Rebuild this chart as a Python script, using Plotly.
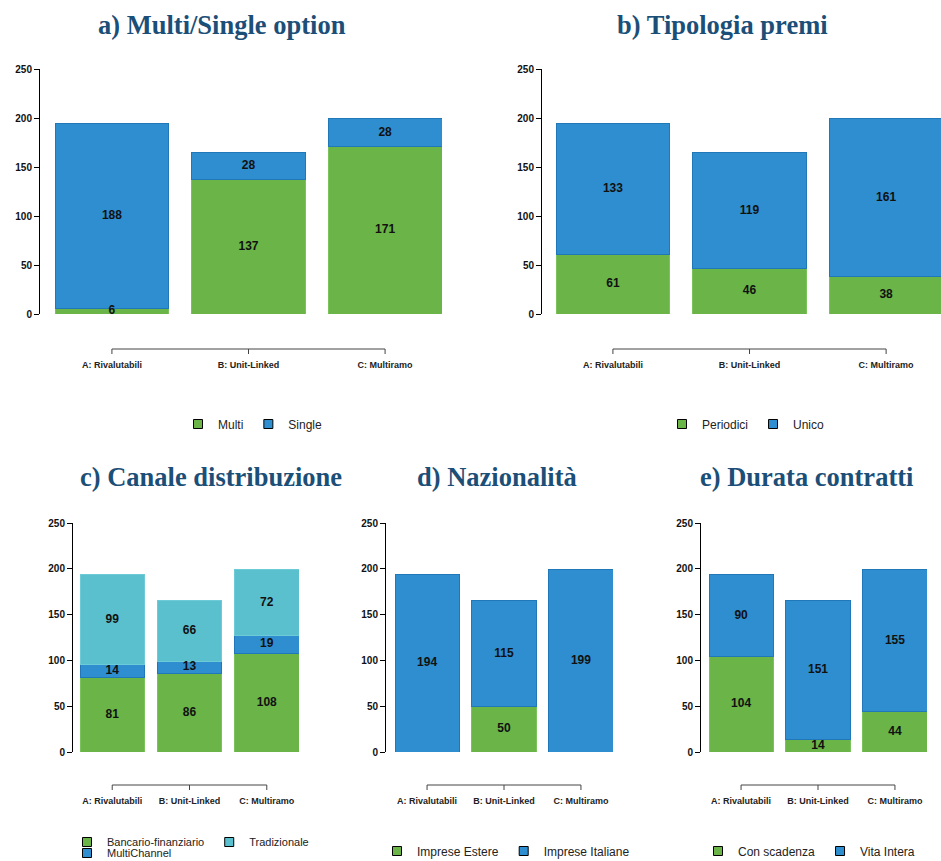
import plotly.graph_objects as go

W, H = 941, 861

categories = ["A: Rivalutabili", "B: Unit-Linked", "C: Multiramo"]

# a) Multi/Single option
multi = [6, 137, 171]
single = [188, 28, 28]
# b) Tipologia premi
periodici = [61, 46, 38]
unico = [133, 119, 161]
# c) Canale distribuzione
bancario = [81, 86, 108]
multichannel = [14, 13, 19]
tradizionale = [99, 66, 72]
# d) Nazionalità
estere = [0, 50, 0]
italiane = [194, 115, 199]
# e) Durata contratti
scadenza = [104, 14, 44]
vita_intera = [90, 151, 155]

y_ticks = [0, 50, 100, 150, 200, 250]

GREEN = "#6ab448"
BLUE = "#2e8ecf"
TEAL = "#5bc0cd"
EDGE = {GREEN: "#7cc25c", BLUE: "#2178b8", TEAL: "#6ccbd6"}
TITLE_COL = "#1c4f78"
SANS = "Liberation Sans, Arial, sans-serif"


def px_x(p):
    return p / W


def px_y(p):
    return 1 - p / H


# pixel geometry of each panel
panels = [
    dict(title="a) Multi/Single option", tx=222, ty=25,
         series=[("Multi", multi, GREEN), ("Single", single, BLUE)],
         x0=55, x1=442, y0=69, y1=314, axis=39, bracket=349,
         legends=[dict(items=["Multi", "Single"], x=253, y=424, anchor="center", size=12)]),
    dict(title="b) Tipologia premi", tx=722, ty=25,
         series=[("Periodici", periodici, GREEN), ("Unico", unico, BLUE)],
         x0=556, x1=941, y0=69, y1=314, axis=541, bracket=349, unit=136.6,
         legends=[dict(items=["Periodici", "Unico"], x=746, y=424, anchor="center", size=12)]),
    dict(title="c) Canale distribuzione", tx=211, ty=477,
         series=[("Bancario-finanziario", bancario, GREEN),
                 ("MultiChannel", multichannel, BLUE),
                 ("Tradizionale", tradizionale, TEAL)],
         x0=80, x1=299, y0=523, y1=752, axis=72, bracket=785,
         legends=[dict(items=["Bancario-finanziario", "Tradizionale"], x=67, y=842,
                       anchor="left", size=11),
                  dict(items=["MultiChannel"], x=67, y=853, anchor="left", size=11)]),
    dict(title="d) Nazionalità", tx=497, ty=477,
         series=[("Imprese Estere", estere, GREEN), ("Imprese Italiane", italiane, BLUE)],
         x0=395, x1=613, y0=523, y1=752, axis=385, bracket=785,
         legends=[dict(items=["Imprese Estere", "Imprese Italiane"], x=506, y=851,
                       anchor="center", size=12)]),
    dict(title="e) Durata contratti", tx=806, ty=477,
         series=[("Con scadenza", scadenza, GREEN), ("Vita Intera", vita_intera, BLUE)],
         x0=709, x1=927, y0=523, y1=752, axis=700, bracket=785,
         legends=[dict(items=["Con scadenza", "Vita Intera"], x=809, y=851,
                       anchor="center", size=12)]),
]

fig = go.Figure()
layout = dict(width=W, height=H, margin=dict(l=0, r=0, t=0, b=0, autoexpand=False),
              paper_bgcolor="white", plot_bgcolor="white",
              barmode="stack", bargap=1 / 6, showlegend=True,
              annotations=[], shapes=[])

legend_no = 0
for i, p in enumerate(panels, start=1):
    xa = "x" if i == 1 else f"x{i}"
    ya = "y" if i == 1 else f"y{i}"
    xkey = "xaxis" if i == 1 else f"xaxis{i}"
    ykey = "yaxis" if i == 1 else f"yaxis{i}"

    # stacked bars + value labels at the middle of each segment
    base = [0, 0, 0]
    for name, vals, col in p["series"]:
        fig.add_trace(go.Bar(x=categories, y=vals, name=name, marker_color=col,
                             marker_line=dict(color=EDGE[col], width=1),
                             xaxis=xa, yaxis=ya, showlegend=False))
        mids = [b + v / 2 for b, v in zip(base, vals)]
        fig.add_trace(go.Scatter(x=categories, y=mids, mode="text",
                                 text=[str(v) if v else "" for v in vals],
                                 textfont=dict(family=SANS, size=12, color="#111", weight="bold"),
                                 xaxis=xa, yaxis=ya, showlegend=False, hoverinfo="skip"))
        base = [b + v for b, v in zip(base, vals)]

    # legends
    colours = {n: c for n, _, c in p["series"]}
    for lg in p["legends"]:
        legend_no += 1
        lkey = "legend" if legend_no == 1 else f"legend{legend_no}"
        for n in lg["items"]:
            fig.add_trace(go.Scatter(x=[None], y=[None], mode="markers", name=n,
                                     marker=dict(symbol="square", size=9, color=colours[n],
                                                 line=dict(color="black", width=1)),
                                     xaxis=xa, yaxis=ya, legend=lkey))
        layout[lkey] = dict(orientation="h", x=px_x(lg["x"]), y=px_y(lg["y"]),
                            xanchor=lg["anchor"], yanchor="middle",
                            font=dict(family=SANS, size=lg["size"], color="#222"),
                            bgcolor="rgba(0,0,0,0)", itemwidth=30,
                            traceorder="normal", itemclick=False, itemdoubleclick=False)

    unit = p.get("unit", (p["x1"] - p["x0"]) / (2 + 5 / 6))
    x_end = -5 / 12 + (p["x1"] - p["x0"]) / unit
    layout[xkey] = dict(domain=[px_x(p["x0"]), min(1, px_x(p["x1"]))], anchor=ya,
                        range=[-5 / 12, x_end], type="category",
                        showline=False, showgrid=False, zeroline=False, ticks="",
                        tickfont=dict(family=SANS, size=9, color="#222", weight="bold"),
                        ticklabelstandoff=p["bracket"] - p["y1"] + 9, fixedrange=True)
    layout[ykey] = dict(domain=[px_y(p["y1"]), px_y(p["y0"])], anchor="free",
                        position=px_x(p["axis"]), range=[0, 250],
                        tickvals=y_ticks, showline=True, linecolor="black", linewidth=1,
                        ticks="outside", ticklen=5, tickcolor="black", tickwidth=1,
                        showgrid=False, zeroline=False,
                        tickfont=dict(family=SANS, size=10, color="#111", weight="bold"),
                        fixedrange=True)

    # bracket axis under the categories
    yb = px_y(p["bracket"])
    layout["shapes"].append(dict(type="line", xref=xa, yref="paper", x0=0, x1=2, y0=yb, y1=yb,
                                 line=dict(color="#444", width=1)))
    for k in range(3):
        layout["shapes"].append(dict(type="line", xref=xa, yref="paper", x0=k, x1=k,
                                     y0=yb, y1=px_y(p["bracket"] + 5),
                                     line=dict(color="#444", width=1)))

    layout["annotations"].append(dict(text=p["title"], x=px_x(p["tx"]), y=px_y(p["ty"]),
                                      xref="paper", yref="paper", showarrow=False,
                                      xanchor="center", yanchor="middle",
                                      font=dict(family="Liberation Serif, serif", size=26.5,
                                                color=TITLE_COL, weight="bold")))

fig.update_layout(**layout)

# pin the figure to the page origin and keep the page exactly figure-sized
page_fix = (
    "document.body.style.margin='0';"
    "document.documentElement.style.overflow='hidden';"
    "var g=document.getElementById('{plot_id}');"
    "g.parentElement.style.height='861px';"
    "g.parentElement.style.overflow='hidden';"
)
fig.write_html("out.html", config={"displayModeBar": False}, post_script=page_fix)
